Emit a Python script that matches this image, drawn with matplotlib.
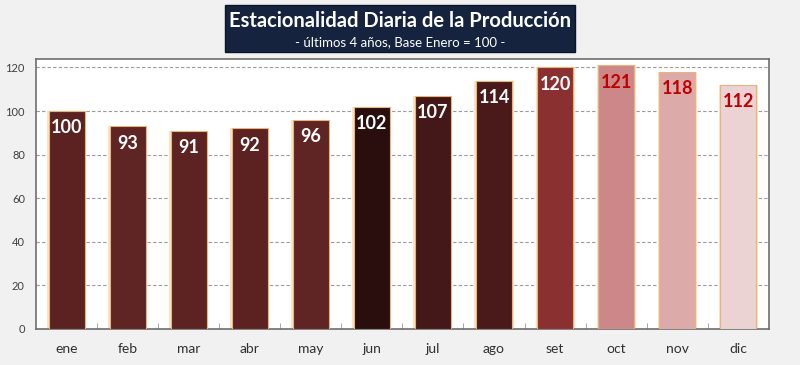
import numpy as np
import matplotlib
matplotlib.use('Agg')
import matplotlib.pyplot as plt
from matplotlib.patches import Rectangle

months = ['ene', 'feb', 'mar', 'abr', 'may', 'jun',
          'jul', 'ago', 'set', 'oct', 'nov', 'dic']
values = [100, 93, 91, 92, 96, 102, 107, 114, 120, 121, 118, 112]
bar_colors = ['#5c2222', '#5f2424', '#5d2222', '#5c2222', '#5f2424', '#2a0e0e',
              '#441818', '#4a1a1a', '#8b3030', '#cc8888', '#ddaaaa', '#ecd3d3']
label_colors = ['white'] * 9 + ['#c00000'] * 3

plt.rcParams['font.family'] = ['Lato', 'DejaVu Sans']

fig = plt.figure(figsize=(8, 3.65), dpi=100, facecolor='#f1f1f1')
ax = fig.add_axes([0.045, 0.099, 0.916, 0.740])
ax.set_facecolor('white')

x = np.arange(len(months))
# pale orange glow behind each bar
ax.bar(x, values, width=0.64, color='#fbe3c4', zorder=2)
ax.bar(x, values, width=0.59, color=bar_colors, edgecolor='#e9b47a',
       linewidth=0.8, zorder=3)

for xi, v, c in zip(x, values, label_colors):
    ax.text(xi, v - 7.7, str(v), ha='center', va='center', color=c,
            fontsize=13, fontweight='bold', zorder=4)

ax.set_xlim(-0.5, len(months) - 0.5)
ax.set_ylim(0, 124)
ax.set_yticks(range(0, 121, 20))
ax.set_xticks(x)
ax.set_xticklabels(months, fontsize=10, color='#303030')
ax.set_xticks(np.arange(0.5, len(months) - 1, 1), minor=True)
ax.tick_params(axis='x', which='major', length=0, pad=10)
ax.tick_params(axis='x', which='minor', length=4, direction='in', color='#999999')
ax.tick_params(axis='y', length=0, labelsize=8, labelcolor='#404040', pad=8)
ax.yaxis.grid(True, ls=(0, (3, 2)), color='#9a9a9a', lw=0.8, zorder=0)
ax.set_axisbelow(True)
for s in ax.spines.values():
    s.set_color('#6e6e6e')
    s.set_linewidth(1.2)

# title box
fig.patches.append(Rectangle((0.281, 0.857), 0.438, 0.129,
                             transform=fig.transFigure, facecolor='#15233f',
                             edgecolor='#0c1528', zorder=5))
fig.text(0.5, 0.943, 'Estacionalidad Diaria de la Producción', ha='center',
         va='center', color='white', fontsize=14.5, fontweight='bold', zorder=6)
fig.text(0.5, 0.885, '- últimos 4 años, Base Enero = 100 -', ha='center',
         va='center', color='white', fontsize=9.5, zorder=6)

fig.savefig('out.png', dpi=100, facecolor=fig.get_facecolor())
